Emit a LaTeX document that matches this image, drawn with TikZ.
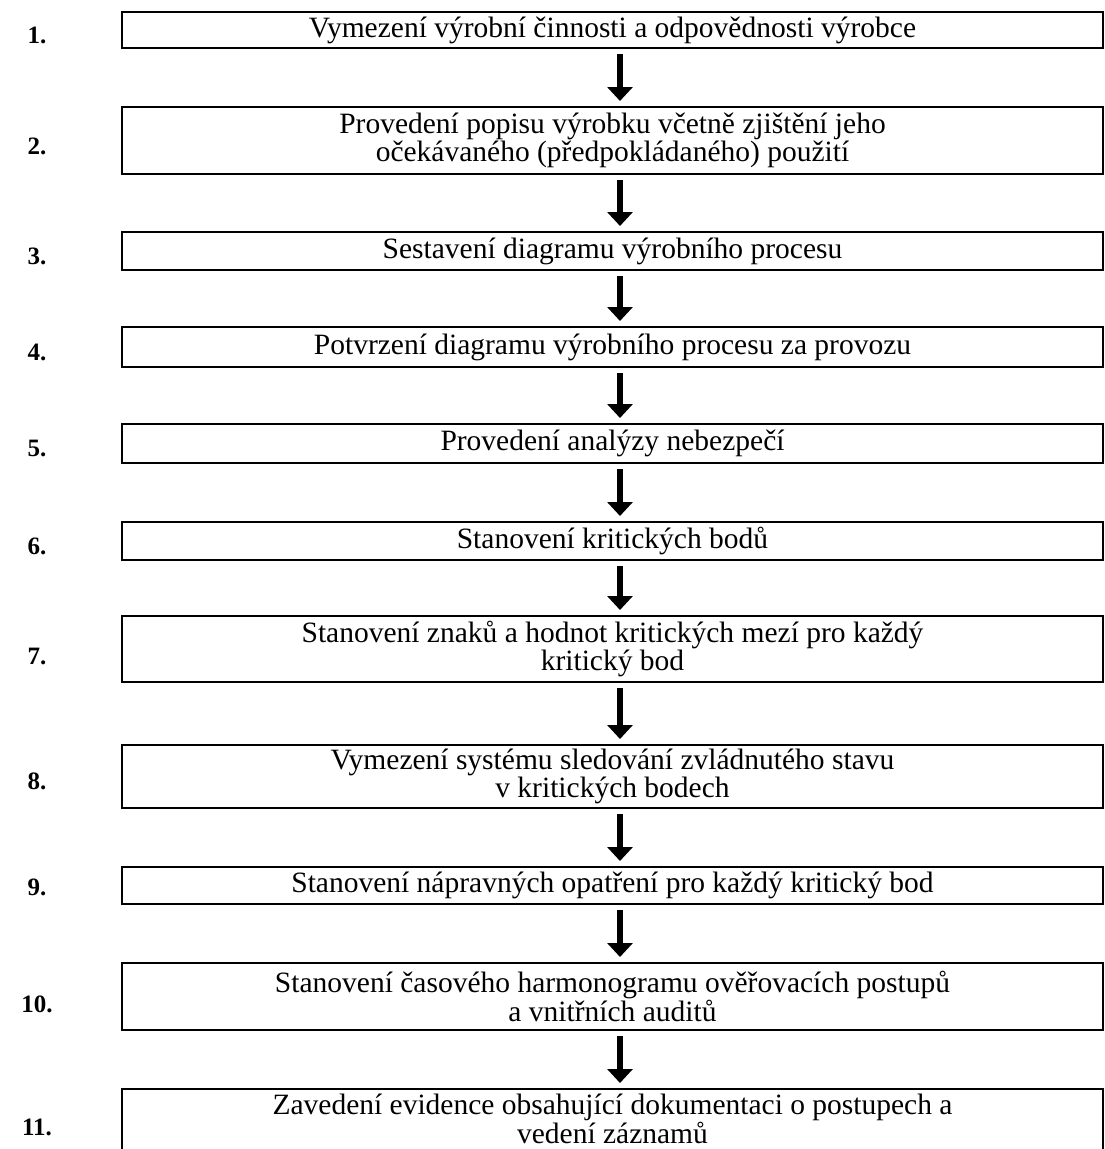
\documentclass[tikz,border=0pt]{standalone}
\usepackage{fontspec}
\setmainfont{Liberation Serif}
\usetikzlibrary{arrows.meta}

\begin{document}
\begin{tikzpicture}[x=1pt, y=-1pt,
  box/.style={draw, line width=2pt, minimum width=981pt, align=center, inner sep=0pt, font=\fontsize{29.5}{25}\selectfont},
  num/.style={font=\bfseries\fontsize{25}{25}\selectfont},
  flow/.style={line width=6pt, -{Triangle[width=25pt,length=14pt]}, shorten <=5pt, shorten >=5pt}]
  \useasboundingbox (0,0) rectangle (1105,1149);
  \node[box, minimum height=36pt] (b1) at (612.5, 30) {Vymezení výrobní činnosti a odpovědnosti výrobce};
  \node[box, minimum height=67pt] (b2) at (612.5, 140.5) {Provedení popisu výrobku včetně zjištění jeho\\ očekávaného (předpokládaného) použití};
  \node[box, minimum height=38pt] (b3) at (612.5, 251) {Sestavení diagramu výrobního procesu};
  \node[box, minimum height=40pt] (b4) at (612.5, 347) {Potvrzení diagramu výrobního procesu za provozu};
  \node[box, minimum height=39pt] (b5) at (612.5, 443.5) {Provedení analýzy nebezpečí};
  \node[box, minimum height=38pt] (b6) at (612.5, 541) {Stanovení kritických bodů};
  \node[box, minimum height=66pt] (b7) at (612.5, 649) {Stanovení znaků a hodnot kritických mezí pro každý\\ kritický bod};
  \node[box, minimum height=63pt] (b8) at (612.5, 776.5) {Vymezení systému sledování zvládnutého stavu\\ v kritických bodech};
  \node[box, minimum height=37pt] (b9) at (612.5, 885.5) {Stanovení nápravných opatření pro každý kritický bod};
  \node[box, minimum height=67pt] (b10) at (612.5, 996.5) {Stanovení časového harmonogramu ověřovacích postupů\\ a vnitřních auditů};
  % last box runs past the bottom edge
  \node[box, anchor=north, text height=54pt, text depth=22pt] (b11) at (612.5, 1088) {Zavedení evidence obsahující dokumentaci o postupech a\\ vedení záznamů};

  \node[num] (n1) at (37, 35) {1.};
  \node[num] (n2) at (37, 146) {2.};
  \node[num] (n3) at (37, 256) {3.};
  \node[num] (n4) at (37, 352) {4.};
  \node[num] (n5) at (37, 448) {5.};
  \node[num] (n6) at (37, 546) {6.};
  \node[num] (n7) at (37, 656) {7.};
  \node[num] (n8) at (37, 781) {8.};
  \node[num] (n9) at (37, 887) {9.};
  \node[num] (n10) at (37, 1004) {10.};
  \node[num] (n11) at (37, 1127) {11.};

  \draw[flow] ([xshift=7.5pt]b1.south) -- ([xshift=7.5pt]b2.north);
  \draw[flow] ([xshift=7.5pt]b2.south) -- ([xshift=7.5pt]b3.north);
  \draw[flow] ([xshift=7.5pt]b3.south) -- ([xshift=7.5pt]b4.north);
  \draw[flow] ([xshift=7.5pt]b4.south) -- ([xshift=7.5pt]b5.north);
  \draw[flow] ([xshift=7.5pt]b5.south) -- ([xshift=7.5pt]b6.north);
  \draw[flow] ([xshift=7.5pt]b6.south) -- ([xshift=7.5pt]b7.north);
  \draw[flow] ([xshift=7.5pt]b7.south) -- ([xshift=7.5pt]b8.north);
  \draw[flow] ([xshift=7.5pt]b8.south) -- ([xshift=7.5pt]b9.north);
  \draw[flow] ([xshift=7.5pt]b9.south) -- ([xshift=7.5pt]b10.north);
  \draw[flow] ([xshift=7.5pt]b10.south) -- ([xshift=7.5pt]b11.north);
\end{tikzpicture}
\end{document}
